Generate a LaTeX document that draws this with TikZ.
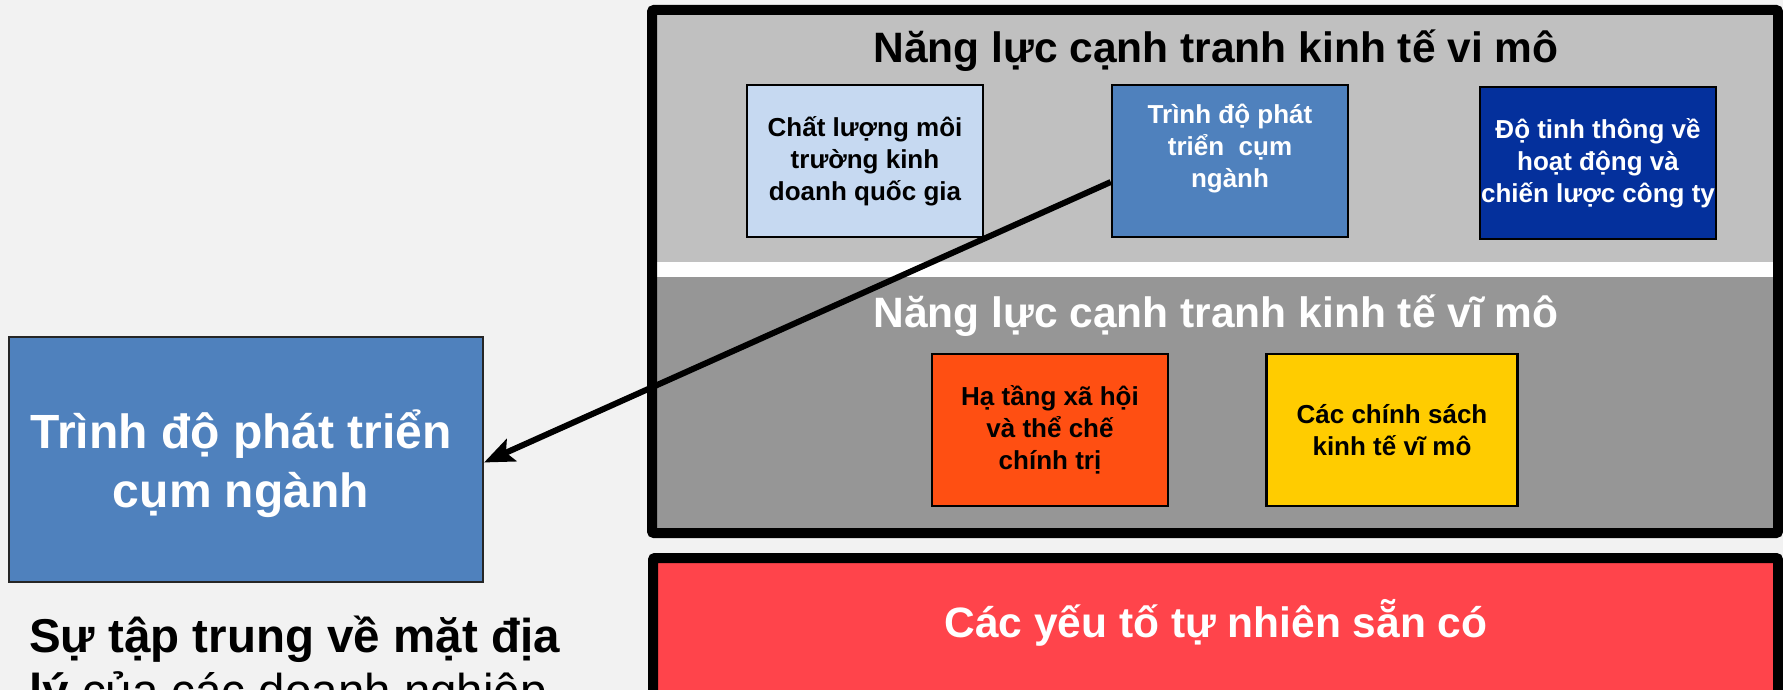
\documentclass[tikz,border=0pt]{standalone}
\usepackage{fontspec}
\setmainfont{Liberation Sans}
\usetikzlibrary{arrows.meta}
\definecolor{bg}{HTML}{F2F2F2}
\definecolor{lgray}{HTML}{C0C0C0}
\definecolor{dgray}{HTML}{969696}
\definecolor{lblue}{HTML}{C6D9F1}
\definecolor{mblue}{HTML}{4F81BD}
\definecolor{dblue}{HTML}{04309C}
\definecolor{orng}{HTML}{FF4F12}
\definecolor{yel}{HTML}{FFCC00}
\definecolor{redb}{HTML}{FF444B}
\tikzset{
  smallbox/.style={draw=black, line width=2.5pt, minimum width=236pt, minimum height=152pt, inner sep=0pt, align=center, font=\bfseries\fontsize{26}{32}\selectfont},
  title/.style={font=\bfseries\fontsize{42.5}{50}\selectfont, inner sep=0pt, anchor=base},
}
\begin{document}
\begin{tikzpicture}[x=1pt,y=-1pt]
\useasboundingbox (0,0) rectangle (1783,690);
\clip (0,0) rectangle (1783,690);
\fill[bg] (0,0) rectangle (1783,690);
% outer box
\fill[lgray] (652,10) rectangle (1778,262);
\fill[white!95!bg] (652,262) rectangle (1778,277);
\fill[dgray] (652,277) rectangle (1778,535);
\draw[line width=10pt, rounded corners=2pt] (652,10) rectangle (1778,533);
\node[title] (t1) at (1216,63) {Năng lực cạnh tranh kinh tế vi mô};
\node[title, text=white] (t2) at (1216,327) {Năng lực cạnh tranh kinh tế vĩ mô};
\node[smallbox, fill=lblue] (b1) at (865,161) {Chất lượng môi\\trường kinh\\doanh quốc gia};
\node[smallbox, fill=mblue, text=white] (b2) at (1230,161) {};
\node[align=center, text=white, font=\bfseries\fontsize{26}{32}\selectfont, anchor=base, inner sep=0pt] (b2t) at (1230,187) {Trình độ phát\\triển\ \ cụm\\ngành};
\node[smallbox, fill=dblue, text=white] (b3) at (1598,163) {Độ tinh thông về\\hoạt động và\\chiến lược công ty};
\node[smallbox, fill=orng] (b4) at (1050,430) {Hạ tầng xã hội\\và thể chế\\chính trị};
\node[smallbox, fill=yel, minimum width=251pt] (b5) at (1392,430) {Các chính sách\\kinh tế vĩ mô};
% bottom red box
\fill[redb] (653,558) rectangle (1778,700);
\draw[line width=10pt, rounded corners=2pt] (653,558) rectangle (1778,720);
\node[title, text=white] (t3) at (1216,637) {Các yếu tố tự nhiên sẵn có};
% left box
\node[draw=black!85, line width=2pt, fill=mblue, minimum width=474pt, minimum height=245pt, inner sep=0pt] (lb) at (246,459.5) {};
\node[text=white, align=center, font=\bfseries\fontsize{48}{59}\selectfont, anchor=base, inner sep=0pt] (lbt) at (241,507) {Trình độ phát triển\\cụm ngành};
\node[anchor=base west, align=left, inner sep=0pt, font=\fontsize{47.5}{55}\selectfont] (desc) at (29,707) {\textbf{Sự tập trung về mặt địa}\\\textbf{lý} của các doanh nghiệp};
% arrow
\draw[line width=6pt, -{Stealth[length=30pt,width=24pt,inset=6pt]}] ([yshift=-21pt]b2.west) -- ([yshift=-3pt]lb.east);
\end{tikzpicture}
\end{document}
